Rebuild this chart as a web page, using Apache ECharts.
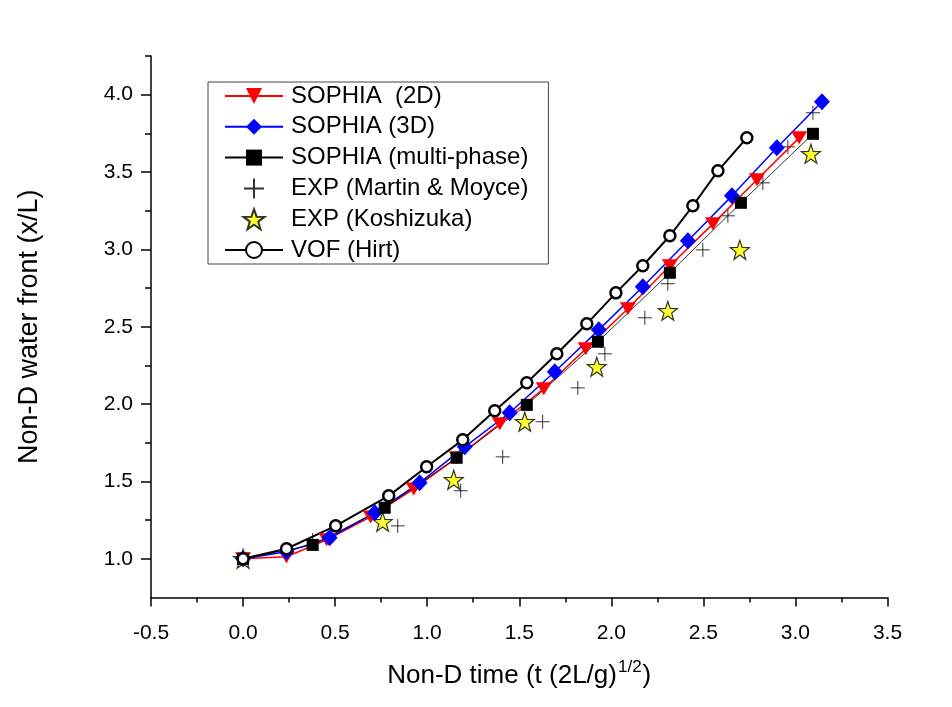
<!DOCTYPE html>
<html><head><meta charset="utf-8">
<script src="https://cdn.jsdelivr.net/npm/echarts@6/dist/echarts.min.js"></script>
<style>html,body{margin:0;padding:0;background:#fff}#c{width:952px;height:707px}</style>
</head><body><div id="c"></div>
<script>
// ---- data ----
var sophia2dX = [0, 0.236, 0.454, 0.693, 0.927, 1.16, 1.394, 1.633, 1.861, 2.09, 2.318, 2.552, 2.791, 3.02];
var sophia2dY = [1.0, 1.013, 1.123, 1.271, 1.452, 1.653, 1.873, 2.099, 2.357, 2.616, 2.894, 3.165, 3.45, 3.721];
var sophia3dX = [0, 0.236, 0.47, 0.715, 0.959, 1.204, 1.448, 1.693, 1.932, 2.171, 2.416, 2.655, 2.899, 3.144];
var sophia3dY = [1.0, 1.045, 1.136, 1.297, 1.491, 1.724, 1.944, 2.209, 2.48, 2.758, 3.056, 3.346, 3.657, 3.954];
var multiX = [0, 0.378, 0.769, 1.16, 1.541, 1.927, 2.318, 2.704, 3.095];
var multiY = [1.0, 1.09, 1.33, 1.653, 1.995, 2.403, 2.849, 3.301, 3.747];
var expX = [0, 0.378, 0.84, 1.182, 1.41, 1.627, 1.818, 1.965, 2.182, 2.307, 2.497, 2.633, 2.823, 2.959, 3.095];
var expY = [1.0, 1.12, 1.213, 1.44, 1.659, 1.886, 2.105, 2.325, 2.558, 2.778, 2.997, 3.217, 3.43, 3.663, 3.883];
var koshX = [0, 0.758, 1.144, 1.53, 1.921, 2.307, 2.698, 3.084];
var koshY = [1.0, 1.239, 1.511, 1.886, 2.241, 2.603, 2.997, 3.618];
var vofX = [0, 0.236, 0.503, 0.791, 0.997, 1.193, 1.367, 1.541, 1.704, 1.867, 2.025, 2.171, 2.318, 2.443, 2.579, 2.736];
var vofY = [1.0, 1.065, 1.213, 1.407, 1.595, 1.769, 1.957, 2.138, 2.325, 2.519, 2.719, 2.894, 3.088, 3.282, 3.508, 3.721];

var yMajorTicks = [1.0, 1.5, 2.0, 2.5, 3.0, 3.5, 4.0];
var yMinorTicks = [1.25, 1.75, 2.25, 2.75, 3.25, 3.75, 4.25];
var xMin = -0.5, xMax = 3.5, xStep = 0.5;
var yMin = 0.75, yMax = 4.25;

var seriesNames = ['SOPHIA  (2D)', 'SOPHIA (3D)', 'SOPHIA (multi-phase)', 'EXP (Martin & Moyce)', 'EXP (Koshizuka)', 'VOF (Hirt)'];

function zip(a, b) { return a.map(function (v, i) { return [v, b[i]]; }); }

// star symbol path
function starPath() {
  var pts = [];
  for (var i = 0; i < 10; i++) {
    var r = (i % 2 === 0) ? 10 : 4;
    var ang = -Math.PI / 2 + i * Math.PI / 5;
    pts.push((10 + r * Math.cos(ang)).toFixed(3) + ',' + (10 + r * Math.sin(ang)).toFixed(3));
  }
  return 'path://M' + pts.join('L') + 'Z';
}
var plusPath = 'path://M0,5L10,5M5,0L5,10';

var FONT = 'Liberation Sans, Arial, sans-serif';
var chart = echarts.init(document.getElementById('c'), null, { renderer: 'canvas' });

chart.setOption({
  backgroundColor: '#fff',
  animation: false,
  grid: { left: 151, right: 64.5, top: 56, bottom: 109.5, outerBoundsMode: 'none', containLabel: false },
  legend: {
    orient: 'vertical', left: 208, top: 82,
    itemWidth: 58, itemHeight: 20, itemGap: 6.8,
    borderColor: '#444', borderWidth: 1,
    padding: [2, 20, 2, 16],
    textStyle: { fontFamily: FONT, fontSize: 24, color: '#000', padding: [0, 0, 0, 3] },
    data: seriesNames
  },
  xAxis: {
    type: 'value', min: xMin, max: xMax, interval: xStep,
    name: '{a|Non-D time (t (2L/g)}{s|1/2}{a|)}',
    nameLocation: 'middle', nameGap: 61,
    nameTextStyle: {
      rich: {
        a: { fontFamily: FONT, fontSize: 26, color: '#000', lineHeight: 30, verticalAlign: 'bottom' },
        s: { fontFamily: FONT, fontSize: 17, color: '#000', lineHeight: 30, verticalAlign: 'top', padding: [0, 1, 12, 1] }
      }
    },
    axisLine: { show: true, onZero: false, lineStyle: { color: '#000', width: 1.5 } },
    axisTick: { show: true, inside: false, length: 9, lineStyle: { color: '#000', width: 1.5 } },
    minorTick: { show: true, splitNumber: 2, length: 5, lineStyle: { color: '#000', width: 1.5 } },
    axisLabel: { fontFamily: FONT, fontSize: 21, color: '#000', margin: 25,
      formatter: function (v) { return v.toFixed(1); } },
    splitLine: { show: false }
  },
  yAxis: [{
    type: 'value', min: yMin, max: yMax,
    name: 'Non-D water front (x/L)', nameLocation: 'middle', nameGap: 108,
    nameTextStyle: { fontFamily: FONT, fontSize: 27, color: '#000' },
    axisLine: { show: true, onZero: false, lineStyle: { color: '#000', width: 1.5 } },
    axisTick: { show: true, inside: false, length: 10, customValues: yMajorTicks, lineStyle: { color: '#000', width: 1.5 } },
    axisLabel: { fontFamily: FONT, fontSize: 21, color: '#000', margin: 18, customValues: yMajorTicks,
      formatter: function (v) { return Number(v).toFixed(1); } },
    splitLine: { show: false }
  }, {
    type: 'value', min: yMin, max: yMax, position: 'left', offset: 0,
    axisLine: { show: false, onZero: false },
    axisTick: { show: true, inside: false, length: 6, customValues: yMinorTicks, lineStyle: { color: '#000', width: 1.5 } },
    axisLabel: { show: false },
    splitLine: { show: false }
  }],
  series: [
    { name: seriesNames[0], type: 'line', data: zip(sophia2dX, sophia2dY),
      symbol: 'triangle', symbolRotate: 180, symbolSize: [16, 13],
      lineStyle: { color: '#ff0000', width: 1.5 }, itemStyle: { color: '#ff0000' } },
    { name: seriesNames[1], type: 'line', data: zip(sophia3dX, sophia3dY),
      symbol: 'diamond', symbolSize: [16, 17],
      lineStyle: { color: '#0000ff', width: 1.5 }, itemStyle: { color: '#0000ff' } },
    { name: seriesNames[2], type: 'line', data: zip(multiX, multiY),
      symbol: 'rect', symbolSize: 12,
      lineStyle: { color: '#000', width: 0.8 }, itemStyle: { color: '#000' } },
    { name: seriesNames[3], type: 'scatter', data: zip(expX, expY),
      symbol: plusPath, symbolSize: 14,
      itemStyle: { color: 'rgba(0,0,0,0)', borderColor: '#000', borderWidth: 1 } },
    { name: seriesNames[4], type: 'scatter', data: zip(koshX, koshY),
      symbol: starPath(), symbolSize: 19,
      itemStyle: { color: '#ffff00', borderColor: '#000', borderWidth: 1.2 } },
    { name: seriesNames[5], type: 'line', data: zip(vofX, vofY),
      symbol: 'circle', symbolSize: 11,
      lineStyle: { color: '#000', width: 2 }, itemStyle: { color: '#fff', borderColor: '#000', borderWidth: 2.5 } }
  ]
});
</script></body></html>
